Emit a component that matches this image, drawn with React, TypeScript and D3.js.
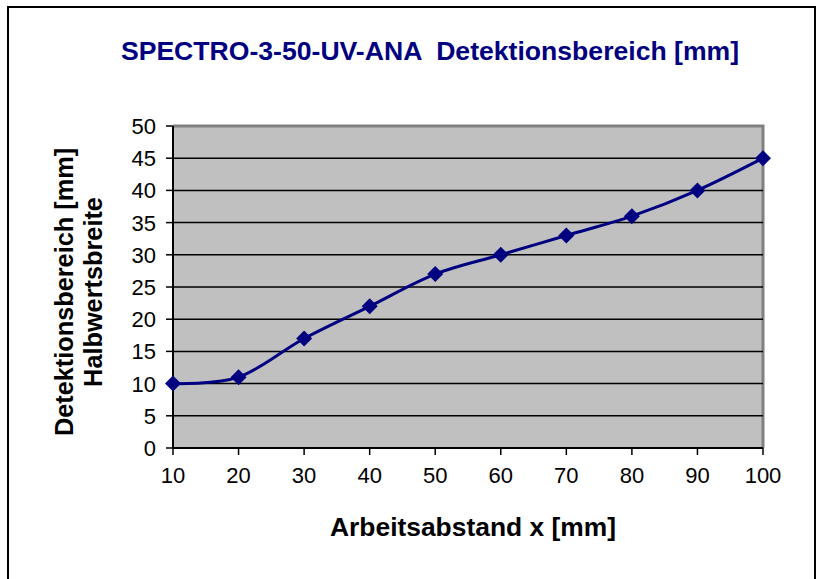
import React from "react";
import * as d3 from "d3";

const xValues = [10, 20, 30, 40, 50, 60, 70, 80, 90, 100];
const yValues = [10, 11, 17, 22, 27, 30, 33, 36, 40, 45];
const yTicks = [0, 5, 10, 15, 20, 25, 30, 35, 40, 45, 50];
const xTicks = [10, 20, 30, 40, 50, 60, 70, 80, 90, 100];
const title = "SPECTRO-3-50-UV-ANA  Detektionsbereich [mm]";
const xTitle = "Arbeitsabstand x [mm]";
const yTitle1 = "Detektionsbereich [mm]";
const yTitle2 = "Halbwertsbreite";

export default function App() {
  const W = 818, H = 579;
  const L = 173, R = 763, T = 126, B = 448;
  const x = d3.scaleLinear().domain([10, 100]).range([L, R]);
  const y = d3.scaleLinear().domain([0, 50]).range([B, T]);
  const pts: [number, number][] = xValues.map((v, i) => [x(v), y(yValues[i])]);
  const line = d3.line().curve(d3.curveCardinal.tension(0))(pts) || "";
  const font = "'Liberation Sans', Arial, sans-serif";
  const ds = 8;
  const cy = 292;
  return (
    <svg width={W} height={H} style={{ position: "absolute", left: 0, top: 0 }} fontFamily={font}>
      <rect x={0} y={0} width={W} height={H} fill="#fff" />
      <rect x={8} y={7} width={807} height={600} fill="none" stroke="#000" strokeWidth={2} />
      <text x={430} y={60} textAnchor="middle" fontSize={26.6} fontWeight="bold" fill="#000080" style={{ whiteSpace: "pre" }}>{title}</text>
      <rect x={L} y={T} width={R - L} height={B - T} fill="#C0C0C0" />
      <path d={`M${L},${T}H${R}V${B}`} fill="none" stroke="#808080" strokeWidth={3} />
      {yTicks.filter(t => t > 0 && t < 50).map(t => (
        <line key={t} x1={L} x2={R} y1={y(t)} y2={y(t)} stroke="#000" strokeWidth={1.5} />
      ))}
      <line x1={L} x2={L} y1={T} y2={B} stroke="#000" strokeWidth={2} />
      <line x1={L} x2={R} y1={B} y2={B} stroke="#000" strokeWidth={2} />
      {yTicks.map(t => (
        <g key={t}>
          <line x1={L - 7} x2={L} y1={y(t)} y2={y(t)} stroke="#000" strokeWidth={1.5} />
          <text x={L - 17} y={y(t) + 8} textAnchor="end" fontSize={22} fill="#000">{t}</text>
        </g>
      ))}
      {xTicks.map(t => (
        <g key={t}>
          <line x1={x(t)} x2={x(t)} y1={B} y2={B + 7} stroke="#000" strokeWidth={1.5} />
          <text x={x(t)} y={B + 35} textAnchor="middle" fontSize={22} fill="#000">{t}</text>
        </g>
      ))}
      <path d={line} fill="none" stroke="#000080" strokeWidth={3} />
      {pts.map(([px, py], i) => (
        <path key={i} d={`M${px},${py - ds}L${px + ds},${py}L${px},${py + ds}L${px - ds},${py}Z`} fill="#000080" />
      ))}
      <text x={473} y={536} textAnchor="middle" fontSize={26.4} fontWeight="bold" fill="#000">{xTitle}</text>
      <text transform={`translate(73,${cy}) rotate(-90)`} textAnchor="middle" fontSize={25.3} fontWeight="bold" fill="#000">{yTitle1}</text>
      <text transform={`translate(102,${cy}) rotate(-90)`} textAnchor="middle" fontSize={25.3} fontWeight="bold" fill="#000">{yTitle2}</text>
    </svg>
  );
}
